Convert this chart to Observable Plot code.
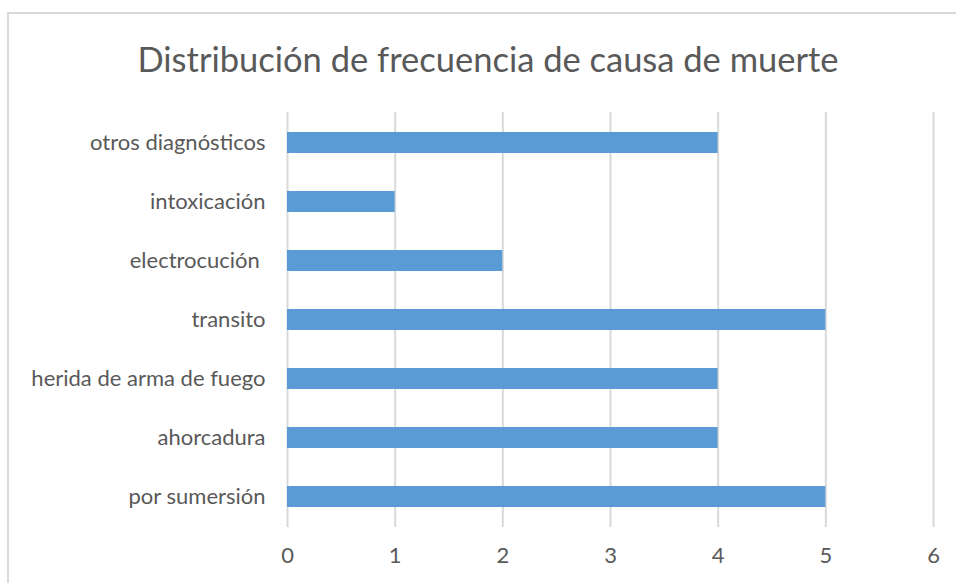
<!DOCTYPE html>
<html><head><meta charset="utf-8">
<script src="https://cdn.jsdelivr.net/npm/d3@7"></script>
<script src="https://cdn.jsdelivr.net/npm/@observablehq/plot@0.6"></script>
<style>
body{margin:0;background:#fff;overflow:hidden;}
#wrap{position:relative;width:956px;height:583px;}
#frame{position:absolute;left:7px;top:12px;width:960px;height:600px;border:2px solid #d9d9d9;box-sizing:border-box;}
#title{position:absolute;left:0;width:976px;top:37px;text-align:center;font-family:Lato,sans-serif;font-size:34.5px;color:#595959;line-height:44px;}
#chart{position:absolute;left:0;top:0;}
</style></head>
<body><div id="wrap"><div id="frame"></div><div id="title">Distribución de frecuencia de causa de muerte</div><div id="chart"></div></div>
<script>
const categories = ["otros diagnósticos","intoxicación","electrocución\u00a0","transito","herida de arma de fuego","ahorcadura","por sumersión"];
const values = [4,1,2,5,4,4,5];
const xTicks = [0,1,2,3,4,5,6];
const data = categories.map((c,i)=>({cat:c,val:values[i]}));
const chart = Plot.plot({
  width:956, height:583,
  marginTop:112, marginBottom:56, marginLeft:287, marginRight:23,
  style:{fontFamily:"Lato, sans-serif", fontSize:"22px", color:"#595959", background:"transparent"},
  x:{domain:[0,6], ticks:xTicks, tickFormat:d3.format("d"), tickSize:0, tickPadding:20, label:null},
  y:{domain:categories, paddingInner:0.645, paddingOuter:0.3225, tickSize:0, tickPadding:22, label:null},
  marks:[
    Plot.ruleX(xTicks,{stroke:"#d9d9d9", strokeWidth:2}),
    Plot.barX(data,{x:"val", y:"cat", fill:"#5b9bd5"})
  ]
});
document.getElementById("chart").appendChild(chart);
</script></body></html>
